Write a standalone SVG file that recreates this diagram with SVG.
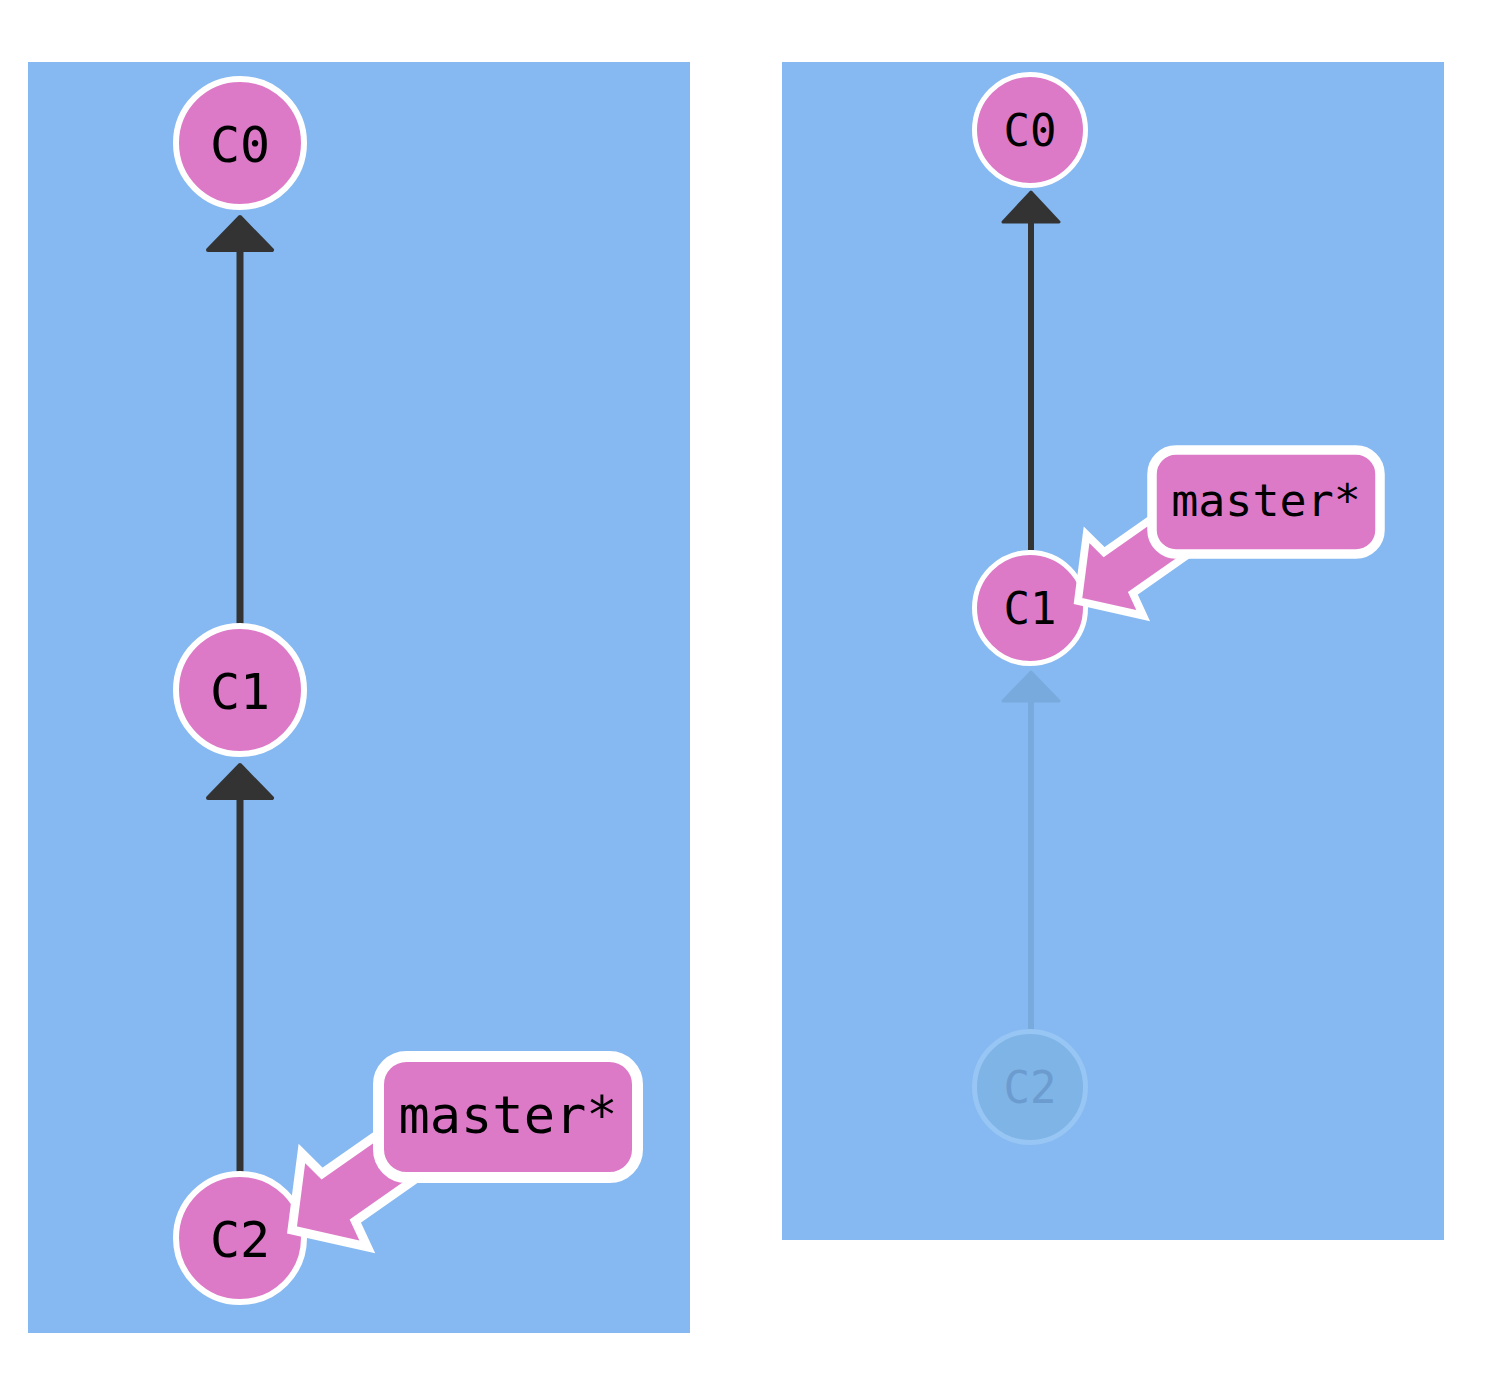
<svg xmlns="http://www.w3.org/2000/svg" width="1490" height="1382" viewBox="0 0 1490 1382">
<defs>
<style>
.panel{fill:#86b9f1}
.node{fill:#dd7ac8;stroke:#fff}
.ntext{font-family:"DejaVu Sans Mono","Liberation Mono",monospace;fill:#000;text-anchor:middle}
.edge{stroke:#333;fill:none}
.head{fill:#333;stroke:#333;stroke-linejoin:round}
.ghost-edge{stroke:#79aade;fill:none}
.ghost-head{fill:#79aade;stroke:#79aade;stroke-linejoin:round}
.ghost{fill:#7fb4e6;stroke:#97c5f4}
.ghost-text{font-family:"DejaVu Sans Mono","Liberation Mono",monospace;fill:#6c9ccf;text-anchor:middle}
.barrow{fill:#dd7ac8;stroke:#fff;stroke-linejoin:miter;stroke-miterlimit:10}
.blabel{fill:#dd7ac8;stroke:#fff}
</style>
<polygon id="arrowShape" points="0,0 52,-57 57,-29 170,-29 170,29 57,29 52,57"/>
</defs>
<rect class="panel" x="28" y="62" width="662" height="1271"/>
<rect class="panel" x="782" y="62" width="662" height="1178"/>

<g id="connectors">
<line class="edge" x1="240" y1="625" x2="240" y2="248" stroke-width="7"/>
<polygon class="head" points="240,217 272,250 208,250" stroke-width="4"/>
<line class="edge" x1="240" y1="1173" x2="240" y2="796" stroke-width="7"/>
<polygon class="head" points="240,765 272,798 208,798" stroke-width="4"/>
<line class="edge" x1="1031" y1="550" x2="1031" y2="220" stroke-width="6"/>
<polygon class="head" points="1031,192 1059,222 1003,222" stroke-width="3"/>
<line class="ghost-edge" x1="1031" y1="1030" x2="1031" y2="700" stroke-width="6"/>
<polygon class="ghost-head" points="1031,672 1059,701 1003,701" stroke-width="3"/>
</g>

<g id="left-C0">
<circle class="node" cx="240" cy="143" r="64" stroke-width="6"/>
<text class="ntext" x="240" y="162" font-size="50">C0</text>
</g>
<g id="left-C1">
<circle class="node" cx="240" cy="690" r="64" stroke-width="6"/>
<text class="ntext" x="240" y="709" font-size="50">C1</text>
</g>
<g id="left-C2">
<circle class="node" cx="240" cy="1238" r="64" stroke-width="6"/>
<text class="ntext" x="240" y="1257" font-size="50">C2</text>
</g>
<g id="left-master">
<use href="#arrowShape" class="barrow" stroke-width="9" transform="translate(292,1230) rotate(-35)"/>
<rect class="blabel" x="378.5" y="1056.5" width="259" height="121" rx="28" stroke-width="11"/>
<text class="ntext" x="508" y="1133" font-size="52">master*</text>
</g>

<g id="right-C0">
<circle class="node" cx="1030" cy="130" r="55.5" stroke-width="5"/>
<text class="ntext" x="1030" y="146" font-size="44">C0</text>
</g>
<g id="right-C1">
<circle class="node" cx="1030" cy="608" r="55.5" stroke-width="5"/>
<text class="ntext" x="1030" y="624" font-size="44">C1</text>
</g>
<g id="right-C2">
<circle class="ghost" cx="1030" cy="1087" r="55.5" stroke-width="5"/>
<text class="ghost-text" x="1030" y="1103" font-size="44">C2</text>
</g>
<g id="right-master">
<use href="#arrowShape" class="barrow" stroke-width="9" transform="translate(1078,601) rotate(-35) scale(0.866)"/>
<rect class="blabel" x="1152" y="450" width="228" height="104" rx="24" stroke-width="9.5"/>
<text class="ntext" x="1266" y="516" font-size="45">master*</text>
</g>
</svg>
